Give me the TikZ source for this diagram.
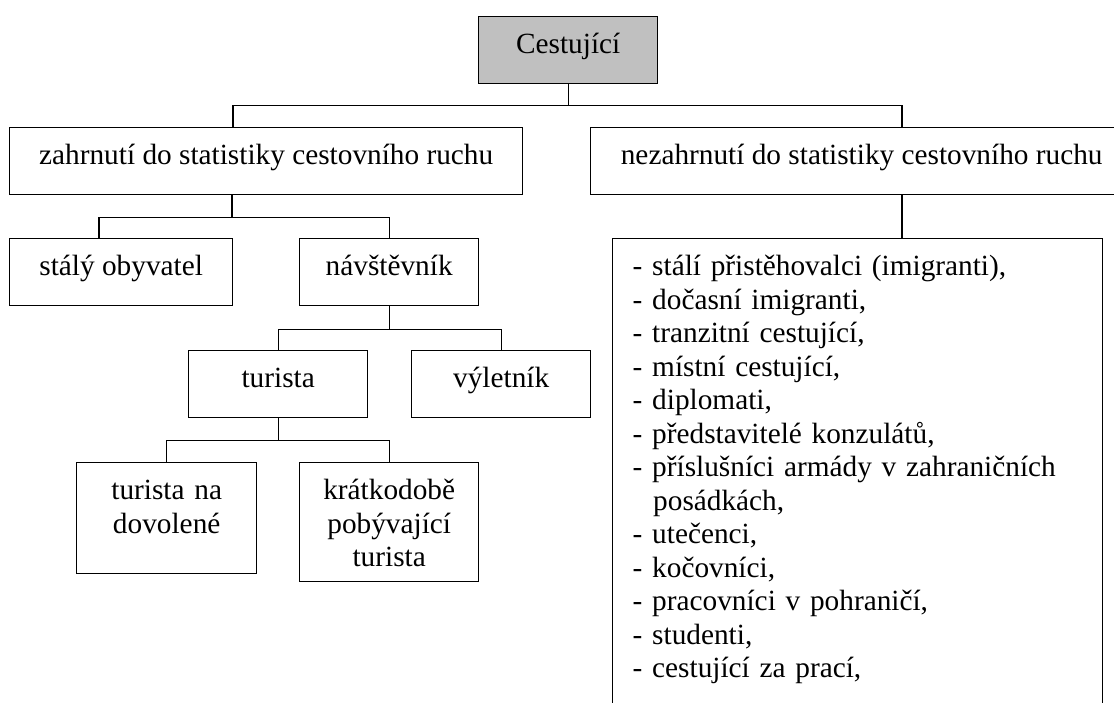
\documentclass[tikz,border=0pt]{standalone}
\usepackage{fontspec}
\setmainfont{Liberation Serif}
\definecolor{boxgray}{RGB}{192,192,192}
\begin{document}
\begin{tikzpicture}[x=1pt,y=-1pt,
  font=\fontsize{29.3}{33.5}\selectfont,
  line width=1.4pt,
  box/.style={draw=black, anchor=north west, inner sep=0pt,
    text height=37pt, text depth=30pt, minimum width=#1},
  tallbox/.style n args={2}{draw=black, anchor=north west, inner sep=0pt,
    text width=#1, align=center, text height=37pt, text depth=#2},
  link/.style={draw=black, line width=1.4pt}]
\useasboundingbox (0,0) rectangle (1114,702);

% top level
\node[box=179pt, fill=boxgray] (root) at (478,16) {Cestující};

% statistics split
\node[box=513pt] (inc) at (9,127) {zahrnutí do statistiky cestovního ruchu};
\node[box=542pt] (exc) at (590,127) {nezahrnutí do statistiky cestovního ruchu};

% included branch
\node[box=223pt] (res) at (9,238) {stálý obyvatel};
\node[box=179pt] (vis) at (299,238) {návštěvník};
\node[box=179pt] (tur) at (188,350) {turista};
\node[box=179pt] (exk) at (411,350) {výletník};
\node[tallbox={180pt}{74pt}] (hol) at (76,462) {turista na\\dovolené};
\node[tallbox={179pt}{82pt}] (short) at (299,462) {krátkodobě\\pobývající\\turista};

% excluded branch: list box running past the lower edge
\node[draw=black, anchor=north west, inner xsep=20pt, inner ysep=0pt,
      text width=450pt, align=left, text height=37pt, text depth=443pt]
  (list) at (612,238)
  {- stálí přistěhovalci (imigranti),\\
   - dočasní imigranti,\\
   - tranzitní cestující,\\
   - místní cestující,\\
   - diplomati,\\
   - představitelé konzulátů,\\
   - příslušníci armády v zahraničních\\
   \hspace*{0.7em}posádkách,\\
   - utečenci,\\
   - kočovníci,\\
   - pracovníci v pohraničí,\\
   - studenti,\\
   - cestující za prací,};

% connectors
\draw[link] (root.south) -- ([yshift=-21pt]root.south);
\draw[link] ([xshift=224pt]inc.north west) |- ([yshift=-21pt]root.south)
            -| ([xshift=312pt]exc.north west);

\draw[link] ([xshift=223pt]inc.south west) -- ([xshift=223pt,yshift=-22pt]inc.south west);
\draw[link] ([xshift=90pt]res.north west) |- ([xshift=223pt,yshift=-22pt]inc.south west)
            -| (vis.north);

\draw[link] (vis.south) -- ([yshift=-23pt]vis.south);
\draw[link] (tur.north) |- ([yshift=-23pt]vis.south) -| (exk.north);

\draw[link] (tur.south) -- ([yshift=-22pt]tur.south);
\draw[link] (hol.north) |- ([yshift=-22pt]tur.south) -| (short.north);

\draw[link] ([xshift=312pt]exc.south west) -- ([xshift=290pt]list.north west);
\end{tikzpicture}
\end{document}
